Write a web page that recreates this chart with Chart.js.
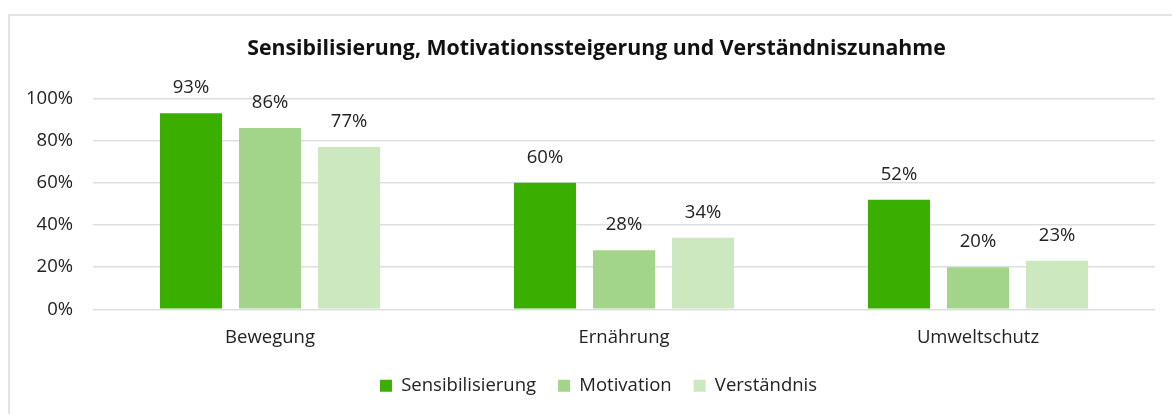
<!DOCTYPE html>
<html>
<head>
<meta charset="utf-8">
<script src="https://cdn.jsdelivr.net/npm/chart.js@4/dist/chart.umd.min.js"></script>
<style>
  html, body { margin: 0; padding: 0; background: #fff; overflow: hidden; }
  #frame {
    position: absolute; left: 8px; top: 14px; width: 1180px; height: 420px;
    border: 2px solid #e1e4e7; box-sizing: border-box;
  }
  #wrap { position: absolute; left: 0; top: 0; width: 1172px; height: 414px; }
</style>
</head>
<body>
<div id="frame"></div>
<div id="wrap"><canvas id="chart"></canvas></div>
<script>
const categories = ['Bewegung', 'Ernährung', 'Umweltschutz'];
const sensibilisierung = [93, 60, 52];
const motivation = [86, 28, 20];
const verstaendnis = [77, 34, 23];
const yTicks = [0, 20, 40, 60, 80, 100];

const font = 'Open Sans';

// draws the value over each bar
const barValues = {
  id: 'barValues',
  afterDatasetsDraw(chart) {
    const { ctx } = chart;
    ctx.save();
    ctx.font = `18.5px "${font}"`;
    ctx.fillStyle = '#222';
    ctx.textAlign = 'center';
    ctx.textBaseline = 'alphabetic';
    chart.data.datasets.forEach((ds, i) => {
      chart.getDatasetMeta(i).data.forEach((bar, j) => {
        ctx.fillText(ds.data[j] + '%', bar.x, bar.y - 20);
      });
    });
    ctx.restore();
  },
};

// title and legend sit a little right of the canvas centre in the original
const nudge = {
  id: 'nudge',
  afterLayout(chart) {
    chart.titleBlock.left += 16;
    chart.titleBlock.right += 16;
    chart.legend.left += 18;
    chart.legend.right += 18;
    chart.legend.top -= 3;
    chart.legend.bottom -= 3;
  },
};

new Chart(document.getElementById('chart'), {
  type: 'bar',
  data: {
    labels: categories,
    datasets: [
      { label: 'Sensibilisierung', data: sensibilisierung, backgroundColor: '#3aaf00' },
      { label: 'Motivation', data: motivation, backgroundColor: '#a2d58a' },
      { label: 'Verständnis', data: verstaendnis, backgroundColor: '#cce8be' },
    ],
  },
  options: {
    responsive: true,
    maintainAspectRatio: false,
    animation: false,
    categoryPercentage: 0.67,
    barPercentage: 0.785,
    layout: { padding: { top: 36, right: 17, left: 6, bottom: 6 } },
    scales: {
      x: {
        grid: { display: false },
        border: { display: false },
        ticks: { color: '#222', font: { family: font, size: 18.5 }, padding: 9 },
      },
      y: {
        min: 0,
        max: 100,
        afterBuildTicks(axis) { axis.ticks = yTicks.map((v) => ({ value: v })); },
        grid: { color: '#dcdfe2', lineWidth: 1.5, drawTicks: false },
        border: { display: false },
        ticks: {
          color: '#222',
          font: { family: font, size: 18.5 },
          padding: 20,
          callback: (v) => v + '%',
        },
      },
    },
    plugins: {
      title: {
        display: true,
        text: 'Sensibilisierung, Motivationssteigerung und Verständniszunahme',
        color: '#111',
        font: { family: font, size: 21.3, weight: 'bold' },
        padding: { top: 0, bottom: 37 },
      },
      legend: {
        position: 'bottom',
        labels: {
          color: '#222',
          boxWidth: 12,
          boxHeight: 12,
          padding: 22,
          font: { family: font, size: 18.5 },
        },
      },
      tooltip: { enabled: false },
    },
  },
  plugins: [barValues, nudge],
});
</script>
</body>
</html>
